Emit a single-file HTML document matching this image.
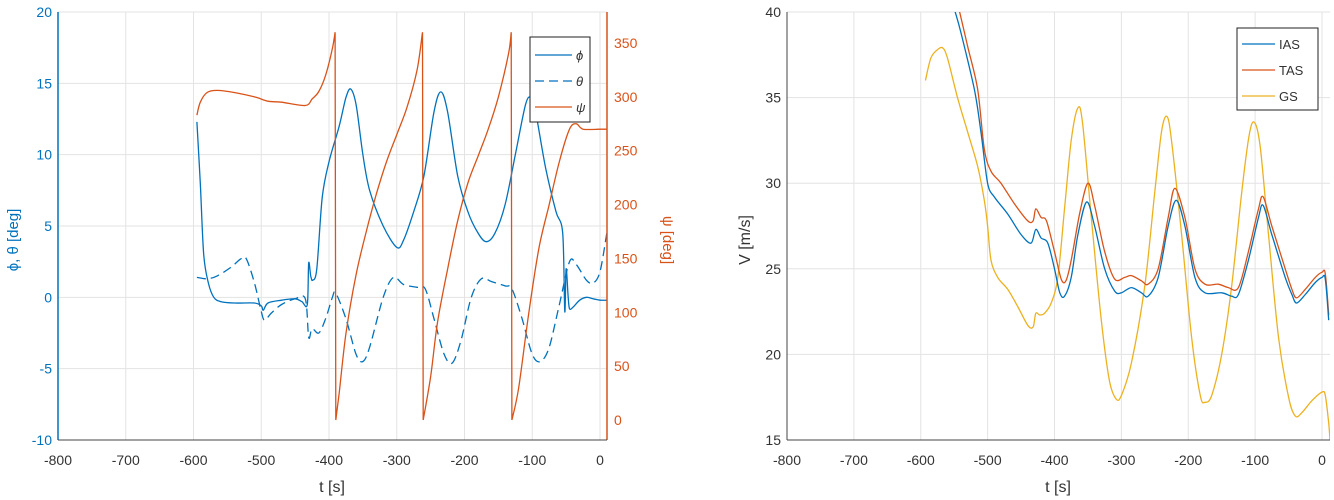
<!DOCTYPE html>
<html><head><meta charset="utf-8"><style>
html,body{margin:0;padding:0;background:#fff;width:1334px;height:500px;overflow:hidden}
svg{font-family:"Liberation Sans",sans-serif}
</style></head><body>
<svg id="s" width="1334" height="500"></svg>
<script>
// ---- Left chart data ----
const xTicks = [-800,-700,-600,-500,-400,-300,-200,-100,0];
const leftYTicks = [-10,-5,0,5,10,15,20];
const rightYTicks = [0,50,100,150,200,250,300,350];
const phiT = [-595,-590,-585,-578,-570,-560,-540,-510,-500,-497,-490,-470,-450,-440,-432,-430,-427,-424,-418,-410,-400,-385,-375,-368,-360,-350,-340,-320,-300,-290,-275,-260,-245,-235,-225,-210,-195,-180,-168,-155,-140,-125,-110,-102,-95,-80,-65,-55,-52,-50,-47,-45,-40,-30,-20,-10,0,10];
const phiV = [12.3,8,3,1,0,-0.3,-0.4,-0.4,-0.6,-0.9,-0.4,-0.2,-0.1,-0.3,-0.5,2.4,1.5,1.2,2,7,9.5,12,14,14.6,13.5,10,7.5,5,3.5,4,6,8.5,13,14.4,13,8.5,6,4.5,3.9,4.5,6.5,10,13.5,14,13,9,6,4.5,-1,2,0,-0.8,-0.7,-0.2,0,-0.1,-0.2,-0.2];
const thetaT = [-595,-580,-565,-545,-530,-522,-510,-500,-495,-485,-470,-450,-435,-430,-425,-415,-405,-395,-390,-375,-360,-350,-340,-320,-305,-290,-270,-258,-245,-230,-218,-205,-190,-175,-160,-140,-130,-115,-100,-88,-75,-60,-45,-35,-20,-10,0,10];
const thetaV = [1.4,1.3,1.5,2.1,2.7,2.7,1,-1,-1.6,-1.1,-0.5,-0.1,-0.1,-2.8,-2.2,-2.5,-1.5,0,0.3,-1.5,-4,-4.5,-3.5,0,1.4,0.9,0.7,0.6,-1.5,-4,-4.6,-3,0,1.3,1.1,0.8,0.6,-1.5,-4,-4.5,-3.5,-0.5,2.5,2.3,1.2,1,1.8,4.5];
const psiT = [-595,-590,-580,-565,-540,-510,-490,-470,-435,-425,-415,-405,-395,-391,-390,-385,-375,-360,-345,-330,-315,-300,-285,-270,-262,-261,-250,-240,-225,-210,-195,-180,-165,-150,-135,-131,-130,-120,-105,-90,-75,-60,-45,-35,-25,0,10];
const psiV = [283,295,304,306,304,300,296,295,292,298,305,320,345,360,0,25,80,135,175,210,240,265,290,325,360,0,40,90,140,185,220,245,270,300,340,360,0,30,100,160,200,240,270,275,270,270,270];
// ---- Right chart data ----
const vTicks = [15,20,25,30,35,40];
const iasT = [-560,-550,-540,-520,-510,-500,-490,-470,-450,-435,-428,-420,-410,-400,-392,-385,-375,-365,-352,-340,-325,-310,-300,-285,-270,-260,-245,-230,-218,-205,-190,-175,-150,-135,-125,-110,-95,-88,-75,-55,-45,-38,-25,-10,0,5,10];
const iasV = [41.5,40.2,38.8,35.5,33,30,29.2,28.2,27,26.5,27.3,26.8,26.5,25,23.6,23.4,24.5,27,28.9,27.5,25,23.7,23.6,23.9,23.6,23.4,24.5,27.5,29,27.5,24.5,23.6,23.6,23.4,23.5,25.5,28,28.7,27,24.5,23.5,23,23.5,24.2,24.5,24.4,22];
const tasT = [-555,-545,-530,-515,-505,-495,-480,-460,-440,-432,-428,-420,-412,-400,-390,-383,-375,-362,-350,-340,-325,-310,-295,-285,-270,-260,-245,-230,-220,-205,-190,-175,-155,-140,-125,-110,-95,-88,-75,-55,-45,-38,-25,-10,0,5,10];
const tasV = [41.8,40.5,38,35.5,32,30.7,30,28.8,27.8,27.8,28.5,28,27.8,26,24.4,24.3,25.5,28.3,30,28.7,26,24.4,24.5,24.6,24.3,24.1,25,28,29.7,28,25,24.1,24.1,23.9,23.9,26,28.5,29.2,27.5,25,23.8,23.3,23.8,24.5,24.8,24.7,22.3];
const gsT = [-593,-585,-575,-567,-560,-545,-530,-515,-505,-500,-495,-485,-470,-455,-440,-432,-428,-422,-415,-405,-395,-385,-375,-365,-358,-345,-330,-318,-308,-300,-285,-265,-250,-240,-232,-225,-210,-195,-182,-175,-165,-150,-135,-120,-108,-100,-92,-80,-65,-50,-40,-30,-15,0,5,10,12];
const gsV = [36,37.3,37.8,37.9,37.3,35,33,31,29,27.5,25.5,24.5,23.8,22.8,21.7,21.6,22.4,22.3,22.4,23,24.5,28.5,32.5,34.4,33.5,28,22,18.5,17.4,17.6,19.5,24,29.5,33,33.9,32.5,27,21,17.6,17.2,17.6,20,24,29.5,33,33.5,32,27,21,17.5,16.4,16.6,17.3,17.8,17.6,16,15];

const NS="http://www.w3.org/2000/svg";
const svg=document.getElementById('s');
function mk(tag,attrs,parent){const e=document.createElementNS(NS,tag);for(const k in attrs)e.setAttribute(k,attrs[k]);(parent||svg).appendChild(e);return e;}
const BLUE="#0072BD",ORANGE="#D95319",YEL="#EDB120",TXT="#333";

function axis(x0,x1,xmin,xmax){return v=>x0+(v-xmin)/(xmax-xmin)*(x1-x0);}
function smooth(P){
  if(P.length<3)return P.map((p,i)=>(i?'L':'M')+p[0].toFixed(1)+' '+p[1].toFixed(1)).join(' ');
  let d='M'+P[0][0].toFixed(1)+' '+P[0][1].toFixed(1);
  const k=0.16;
  for(let i=0;i<P.length-1;i++){
    const p0=P[Math.max(0,i-1)],p1=P[i],p2=P[i+1],p3=P[Math.min(P.length-1,i+2)];
    const c1x=p1[0]+(p2[0]-p0[0])*k,c1y=p1[1]+(p2[1]-p0[1])*k;
    const c2x=p2[0]-(p3[0]-p1[0])*k,c2y=p2[1]-(p3[1]-p1[1])*k;
    d+=' C'+c1x.toFixed(1)+' '+c1y.toFixed(1)+' '+c2x.toFixed(1)+' '+c2y.toFixed(1)+' '+p2[0].toFixed(1)+' '+p2[1].toFixed(1);
  }
  return d;
}
function path(T,V,sx,sy,breakJump){
  let segs=[[]];
  T.forEach((t,i)=>{
    if(breakJump&&i>0&&V[i-1]-V[i]>breakJump){const last=segs[segs.length-1];const a=last[last.length-1];segs.push([[sx(t),a[1]]]);}
    segs[segs.length-1].push([sx(t),sy(V[i])]);
  });
  return segs.map(s=>{
    if(s.length>1&&breakJump&&s[0][1]!==s[1][1]&&s.length>=2){}
    return smooth(s);
  }).join(' ');
}
function psiPath(T,V,sx,sy){
  let segs=[[]],d='';
  T.forEach((t,i)=>{
    if(i>0&&V[i-1]-V[i]>200){
      const prev=segs[segs.length-1][segs[segs.length-1].length-1];
      d+=' M'+prev[0].toFixed(1)+' '+prev[1].toFixed(1)+' L'+sx(t).toFixed(1)+' '+sy(V[i]).toFixed(1);
      segs.push([]);
    }
    segs[segs.length-1].push([sx(t),sy(V[i])]);
  });
  return segs.map(smooth).join(' ')+d;
}

// ---- LEFT ----
const L={x0:58,x1:607,y0:12,y1:440};
const lsx=axis(58,600,-800,0);
const lsy=axis(440,12,-10,20);
const rsy=axis(420,43,0,350);
const gL=mk('g',{});


mk('clipPath',{id:'cl'},gL);
mk('rect',{x:L.x0,y:L.y0,width:L.x1-L.x0,height:L.y1-L.y0},document.getElementById('cl'));
xTicks.forEach(t=>{const g=mk('line',{x1:lsx(t),x2:lsx(t),y1:L.y0,y2:L.y1,stroke:'#e3e3e3','stroke-width':1},gL);});
leftYTicks.forEach(v=>{const g=mk('line',{x1:L.x0,x2:L.x1,y1:lsy(v),y2:lsy(v),stroke:'#e3e3e3','stroke-width':1},gL);});
let p;
p=mk('path',{d:path(phiT,phiV,lsx,lsy),fill:'none',stroke:BLUE,'stroke-width':1.3,'clip-path':'url(#cl)'},gL);

p=mk('path',{d:path(thetaT,thetaV,lsx,lsy),fill:'none',stroke:BLUE,'stroke-width':1.3,'stroke-dasharray':'9 5','clip-path':'url(#cl)'},gL);

p=mk('path',{d:psiPath(psiT,psiV,lsx,rsy),fill:'none',stroke:ORANGE,'stroke-width':1.3,'clip-path':'url(#cl)'},gL);

mk('line',{x1:L.x0,x2:L.x0,y1:L.y0,y2:L.y1,stroke:BLUE,'stroke-width':1.5},gL);
mk('line',{x1:L.x1,x2:L.x1,y1:L.y0,y2:L.y1,stroke:ORANGE,'stroke-width':1.5},gL);
mk('line',{x1:L.x0,x2:L.x1,y1:L.y1,y2:L.y1,stroke:'#444','stroke-width':1},gL);
xTicks.forEach(t=>{const e=mk('text',{x:lsx(t),y:465,'text-anchor':'middle','font-size':14,fill:TXT},gL);e.textContent=t;});
leftYTicks.forEach(v=>{const e=mk('text',{x:52,y:lsy(v)+5,'text-anchor':'end','font-size':14,fill:BLUE},gL);e.textContent=v;});
rightYTicks.forEach(v=>{const e=mk('text',{x:614,y:rsy(v)+5,'font-size':14,fill:ORANGE},gL);e.textContent=v;});
let e;
e=mk('text',{x:332,y:492,'text-anchor':'middle','font-size':16,fill:TXT},gL);e.textContent='t [s]';
e=mk('text',{x:0,y:0,'text-anchor':'middle','font-size':15,fill:BLUE,transform:'translate(18,240) rotate(-90)'},gL);e.textContent='ϕ, θ [deg]';
e=mk('text',{x:0,y:0,'text-anchor':'middle','font-size':15,fill:ORANGE,transform:'translate(663,240) rotate(90)'},gL);e.textContent='ψ [deg]';
const lg=mk('g',{},gL);
mk('rect',{x:530,y:37,width:60,height:85,fill:'#fff',stroke:'#222','stroke-width':1},lg);
[['ϕ',BLUE,''],['θ',BLUE,'9 5'],['ψ',ORANGE,'']].forEach((r,i)=>{const y=55+i*26;mk('line',{x1:535,x2:572,y1:y,y2:y,stroke:r[1],'stroke-width':1.3,'stroke-dasharray':r[2]},lg);const t=mk('text',{x:576,y:y+5,'font-size':13,'font-style':'italic',fill:TXT},lg);t.textContent=r[0];});

// ---- RIGHT ----
const R={x0:787,x1:1330,y0:12,y1:440};
const vsx=axis(787,1322,-800,0);
const vsy=axis(440,12,15,40);
const gR=mk('g',{});


mk('clipPath',{id:'cr'},gR);
mk('rect',{x:R.x0,y:R.y0,width:R.x1-R.x0,height:R.y1-R.y0},document.getElementById('cr'));
xTicks.forEach(t=>{mk('line',{x1:vsx(t),x2:vsx(t),y1:R.y0,y2:R.y1,stroke:'#e3e3e3'},gR);});
vTicks.forEach(v=>{mk('line',{x1:R.x0,x2:R.x1,y1:vsy(v),y2:vsy(v),stroke:'#e3e3e3'},gR);});
p=mk('path',{d:path(gsT,gsV,vsx,vsy),fill:'none',stroke:YEL,'stroke-width':1.3,'clip-path':'url(#cr)'},gR);

p=mk('path',{d:path(tasT,tasV,vsx,vsy),fill:'none',stroke:ORANGE,'stroke-width':1.3,'clip-path':'url(#cr)'},gR);

p=mk('path',{d:path(iasT,iasV,vsx,vsy),fill:'none',stroke:BLUE,'stroke-width':1.3,'clip-path':'url(#cr)'},gR);

mk('line',{x1:R.x0,x2:R.x0,y1:R.y0,y2:R.y1,stroke:'#444'},gR);
mk('line',{x1:R.x0,x2:R.x1,y1:R.y1,y2:R.y1,stroke:'#444'},gR);
xTicks.forEach(t=>{const e=mk('text',{x:vsx(t),y:465,'text-anchor':'middle','font-size':14,fill:TXT},gR);e.textContent=t;});
vTicks.forEach(v=>{const e=mk('text',{x:781,y:vsy(v)+5,'text-anchor':'end','font-size':14,fill:TXT},gR);e.textContent=v;});
e=mk('text',{x:1058,y:492,'text-anchor':'middle','font-size':16,fill:TXT},gR);e.textContent='t [s]';
e=mk('text',{x:0,y:0,'text-anchor':'middle','font-size':16,fill:TXT,transform:'translate(750,240) rotate(-90)'},gR);e.textContent='V [m/s]';
const rg=mk('g',{},gR);
mk('rect',{x:1237,y:28,width:81,height:82,fill:'#fff',stroke:'#222'},rg);
[['IAS',BLUE],['TAS',ORANGE],['GS',YEL]].forEach((r,i)=>{const y=44+i*26;mk('line',{x1:1242,x2:1275,y1:y,y2:y,stroke:r[1],'stroke-width':1.3},rg);const t=mk('text',{x:1279,y:y+5,'font-size':13,fill:TXT},rg);t.textContent=r[0];});
</script>
</body></html>
